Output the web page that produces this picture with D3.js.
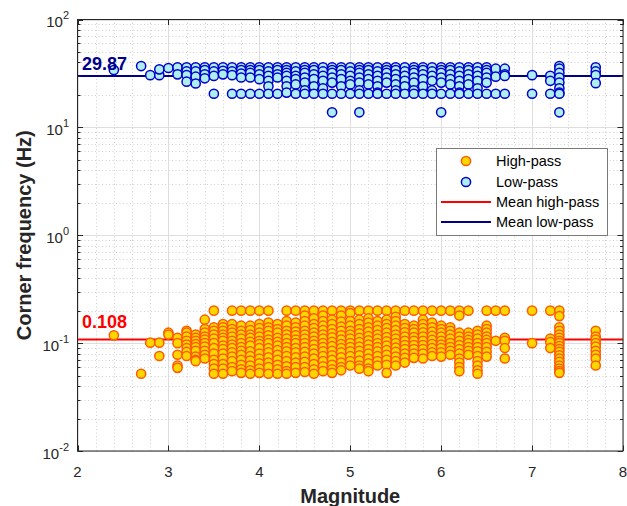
<!DOCTYPE html>
<html><head><meta charset="utf-8">
<script src="https://cdn.jsdelivr.net/npm/d3@7"></script>
<style>body{margin:0;background:#fff;}svg{display:block;font-family:"Liberation Sans",Arial,sans-serif;}</style>
</head><body>
<svg id="c" width="627" height="506"></svg>
<script>
// ---- data ----
const hpMag = [2.4,2.7,2.8,2.9,3.0,3.1,3.2,3.3,3.4,3.5,3.6,3.7,3.8,3.9,4.0,4.1,4.2,4.3,4.4,4.5,4.6,4.7,4.8,4.9,5.0,5.1,5.2,5.3,5.4,5.5,5.6,5.7,5.8,5.9,6.0,6.1,6.2,6.3,6.4,6.5,6.6,6.7,7.0,7.2,7.3,7.7];
const hpVals = [
 [0.118],[0.052],[0.101],[0.101,0.076],[0.125,0.12],
 [0.112,0.10,0.078,0.062,0.059],
 [0.13,0.125,0.115,0.105,0.097,0.09,0.083,0.076],
 [0.12,0.112,0.105,0.098,0.092,0.085,0.075,0.07,0.068],
 [0.165,0.135,0.125,0.115,0.108,0.1,0.093,0.085,0.078,0.072],
 [0.2,0.14,0.13,0.12,0.11,0.1,0.09,0.08,0.07,0.064,0.058,0.052],
 [0.15,0.14,0.13,0.12,0.112,0.105,0.095,0.088,0.08,0.072,0.064,0.058,0.052],
 [0.2,0.15,0.135,0.125,0.115,0.105,0.097,0.09,0.082,0.075,0.068,0.06,0.055],
 [0.2,0.145,0.13,0.12,0.11,0.1,0.092,0.085,0.078,0.07,0.063,0.057,0.053],
 [0.2,0.145,0.132,0.12,0.112,0.103,0.095,0.084,0.076,0.069,0.062,0.056,0.052],
 [0.2,0.15,0.138,0.125,0.115,0.105,0.098,0.09,0.08,0.072,0.065,0.058,0.053],
 [0.2,0.155,0.14,0.13,0.118,0.108,0.1,0.09,0.082,0.074,0.066,0.06,0.052],
 [0.15,0.135,0.125,0.112,0.103,0.095,0.086,0.078,0.07,0.063,0.057,0.052],
 [0.2,0.16,0.145,0.13,0.12,0.11,0.1,0.092,0.084,0.076,0.068,0.061,0.055,0.052],
 [0.2,0.155,0.14,0.128,0.118,0.108,0.1,0.09,0.082,0.074,0.066,0.06,0.053],
 [0.2,0.18,0.16,0.145,0.13,0.12,0.11,0.1,0.092,0.083,0.075,0.067,0.06,0.054],
 [0.2,0.17,0.15,0.138,0.125,0.115,0.105,0.097,0.088,0.08,0.072,0.064,0.057,0.052],
 [0.2,0.18,0.16,0.145,0.132,0.12,0.11,0.1,0.092,0.084,0.076,0.068,0.061,0.055],
 [0.2,0.165,0.15,0.135,0.123,0.113,0.103,0.094,0.085,0.077,0.07,0.063,0.057,0.053],
 [0.2,0.18,0.158,0.142,0.13,0.118,0.108,0.098,0.09,0.082,0.074,0.066,0.06,0.056],
 [0.2,0.19,0.16,0.145,0.13,0.12,0.11,0.1,0.092,0.084,0.076,0.068,0.062],
 [0.2,0.165,0.15,0.135,0.123,0.112,0.102,0.093,0.085,0.077,0.069,0.062,0.058],
 [0.2,0.17,0.155,0.14,0.128,0.116,0.106,0.097,0.088,0.08,0.072,0.065,0.058,0.055],
 [0.2,0.16,0.145,0.132,0.12,0.11,0.1,0.092,0.084,0.076,0.068,0.062],
 [0.2,0.165,0.15,0.138,0.125,0.114,0.104,0.095,0.086,0.078,0.07,0.063,0.053],
 [0.2,0.175,0.16,0.145,0.132,0.12,0.11,0.1,0.091,0.083,0.075,0.068,0.062],
 [0.2,0.15,0.138,0.126,0.115,0.105,0.096,0.088,0.08,0.073,0.066],
 [0.2,0.145,0.135,0.125,0.114,0.105,0.096,0.088,0.08,0.073],
 [0.2,0.165,0.15,0.138,0.126,0.115,0.105,0.096,0.088,0.08,0.072],
 [0.2,0.155,0.14,0.128,0.117,0.107,0.098,0.09,0.082,0.076],
 [0.2,0.145,0.135,0.125,0.115,0.105,0.097,0.09,0.082,0.075],
 [0.2,0.14,0.13,0.12,0.11,0.1,0.092,0.085,0.078],
 [0.2,0.18,0.125,0.115,0.105,0.096,0.088,0.08,0.072,0.066,0.06,0.055],
 [0.2,0.125,0.115,0.107,0.1,0.092,0.085,0.078],
 [0.13,0.12,0.11,0.1,0.092,0.084,0.076,0.068,0.062,0.056,0.052],
 [0.2,0.145,0.135,0.125,0.115,0.107,0.1,0.092,0.083,0.075],
 [0.2,0.105],
 [0.2,0.112,0.105,0.09,0.072],
 [0.2,0.1],
 [0.2,0.11,0.102,0.09],
 [0.2,0.178,0.14,0.13,0.12,0.112,0.105,0.1,0.094,0.088,0.083,0.077,0.072,0.067,0.062,0.058,0.055,0.053],
 [0.13,0.115,0.108,0.1,0.093,0.085,0.078,0.072,0.062]
];
const lpMag = [2.4,2.7,2.8,2.9,3.0,3.1,3.2,3.3,3.4,3.5,3.6,3.7,3.8,3.9,4.0,4.1,4.2,4.3,4.4,4.5,4.6,4.7,4.8,4.9,5.0,5.1,5.2,5.3,5.4,5.5,5.6,5.7,5.8,5.9,6.0,6.1,6.2,6.3,6.4,6.5,6.6,6.7,7.0,7.2,7.3,7.7];
const lpVals = [
 [34],[37],[30.5],[30.5,34.5],[35.5],[36,31],
 [36,33,30.5,26.5],[36,33,29.5,25.5],[36,34,31,28.5],[36,33,30,20.5],
 [36,33.5,31],[36,33,30.5,20.5],[36,34,31.5,29,20.5],[36,34,32,29,20.5],
 [36,34,31,28,20.5],[36,33,30,27,24,20.5],[36,34,31,29,20.5],
 [36,34,32,30,27,24,21],[36,33,30,28,25,20.5],[36,34,32,29,26,22,20.5],
 [36,34,31,28,24,20.5],[36,33,30,27,23,20.5],[36,34,32,29,26,20.5,13.8],
 [36,34,31,28,24,20.5],[36,33,30,27,25,20.5],[36,34,32,29,26,22,20.5,13.8],
 [36,34,31,28,25,20.5],[36,33,30,27,24,21,20.5],[36,34,32,29,26,20.5],
 [36,34,31,28,25,22,20.5],[36,33,30,27,24,20.5],[36,34,32,29,26,22,20.5],
 [36,34,31,28,24,20.5],[36,33,30,27,22,20.5],[36,34,32,29,26,20.5,13.8],
 [36,34,31,28,25,20.5],[36,33,30,27,24,21,20.5],[36,34,31,28,25,20.5],
 [36,33,30,27,23,20.5],[36,34,32,29,26,20.5],[35,29.5,20.5],[35,31,30,20.5],
 [30.5,20.5],[30,27,20.5],[37,35,32,29,26,23,21,20.5,13.8],[36,33,30.5,25.7]
];
const meanHP = 0.108, meanLP = 29.87;
const xTicks = [2,3,4,5,6,7,8];
const yExps = [-2,-1,0,1,2];
const legendLabels = ["High-pass","Low-pass","Mean high-pass","Mean low-pass"];

// ---- layout ----
const L=77.5, R=623, T=19.5, B=451;
const svg=d3.select("#c");
const x=d3.scaleLinear().domain([2,8]).range([L,R]);
const y=d3.scaleLog().domain([0.01,100]).range([B,T]);
const axisCol="#262626";

// grid
const g=svg.append("g");
const minorX=d3.range(2,8.001,0.2).filter(v=>Math.abs(v-Math.round(v))>1e-6);
g.selectAll(".mx").data(minorX).enter().append("line")
 .attr("x1",d=>Math.round(x(d))+0.5).attr("x2",d=>Math.round(x(d))+0.5).attr("y1",T).attr("y2",B)
 .attr("stroke","#d0d0d0").attr("stroke-width",1).attr("stroke-dasharray","1,2.5");
const minorY=[];
for(let e=-2;e<2;e++) for(let k=2;k<=9;k++) minorY.push(k*Math.pow(10,e));
g.selectAll(".my").data(minorY).enter().append("line")
 .attr("y1",d=>Math.round(y(d))+0.5).attr("y2",d=>Math.round(y(d))+0.5).attr("x1",L).attr("x2",R)
 .attr("stroke","#d0d0d0").attr("stroke-width",1).attr("stroke-dasharray","1,2.5");
g.selectAll(".gx").data(xTicks).enter().append("line")
 .attr("x1",d=>Math.round(x(d))+0.5).attr("x2",d=>Math.round(x(d))+0.5).attr("y1",T).attr("y2",B)
 .attr("stroke","#dedede").attr("stroke-width",1);
g.selectAll(".gy").data(yExps).enter().append("line")
 .attr("y1",d=>Math.round(y(Math.pow(10,d)))+0.5).attr("y2",d=>Math.round(y(Math.pow(10,d)))+0.5).attr("x1",L).attr("x2",R)
 .attr("stroke","#dedede").attr("stroke-width",1);

// mean lines
svg.append("line").attr("x1",L).attr("x2",R).attr("y1",y(meanHP)).attr("y2",y(meanHP))
 .attr("stroke","#ff0000").attr("stroke-width",2);
svg.append("line").attr("x1",L).attr("x2",R).attr("y1",y(meanLP)).attr("y2",y(meanLP))
 .attr("stroke","#00008b").attr("stroke-width",2);

// points
function flat(mags,vals){const o=[];mags.forEach((m,i)=>vals[i].forEach(v=>o.push([m,v])));return o;}
const hp=flat(hpMag,hpVals), lp=flat(lpMag,lpVals);
const rad=4.6;
svg.append("g").selectAll("circle").data(hp).enter().append("circle")
 .attr("cx",d=>x(d[0])).attr("cy",d=>y(d[1])).attr("r",rad)
 .attr("fill","#ffd700").attr("stroke","#ff5a00").attr("stroke-width",1.5);
svg.append("g").selectAll("circle").data(lp).enter().append("circle")
 .attr("cx",d=>x(d[0])).attr("cy",d=>y(d[1])).attr("r",rad)
 .attr("fill","#aeeeee").attr("stroke","#0000cd").attr("stroke-width",1.5);

// mean labels
svg.append("text").attr("x",82).attr("y",69.5).attr("font-size",18).attr("font-weight","bold")
 .attr("fill","#00008b").text(meanLP.toFixed(2));
svg.append("text").attr("x",82).attr("y",327.5).attr("font-size",18).attr("font-weight","bold")
 .attr("fill","#ff0000").text(String(meanHP));

// axes box
svg.append("rect").attr("x",L).attr("y",T).attr("width",R-L).attr("height",B-T)
 .attr("fill","none").attr("stroke",axisCol).attr("stroke-width",1);
const tk=svg.append("g").attr("stroke",axisCol).attr("stroke-width",1);
xTicks.forEach(v=>{const px=Math.round(x(v))+0.5;
 tk.append("line").attr("x1",px).attr("x2",px).attr("y1",B).attr("y2",B-5.5);
 tk.append("line").attr("x1",px).attr("x2",px).attr("y1",T).attr("y2",T+5.5);});
yExps.forEach(e=>{const py=Math.round(y(Math.pow(10,e)))+0.5;
 tk.append("line").attr("x1",L).attr("x2",L+5.5).attr("y1",py).attr("y2",py);
 tk.append("line").attr("x1",R).attr("x2",R-5.5).attr("y1",py).attr("y2",py);});
minorY.forEach(v=>{const py=Math.round(y(v))+0.5;
 tk.append("line").attr("x1",L).attr("x2",L+3).attr("y1",py).attr("y2",py);
 tk.append("line").attr("x1",R).attr("x2",R-3).attr("y1",py).attr("y2",py);});

// tick labels
svg.append("g").selectAll("text").data(xTicks).enter().append("text")
 .attr("x",d=>x(d)).attr("y",477).attr("text-anchor","middle").attr("font-size",15)
 .attr("fill",axisCol).text(d=>d);
const yl=svg.append("g");
yExps.forEach(e=>{const py=y(Math.pow(10,e));
 const t=yl.append("text").attr("x",69).attr("y",py+7.5).attr("text-anchor","end")
  .attr("font-size",15).attr("fill",axisCol);
 t.append("tspan").text("10");
 t.append("tspan").attr("dy",-8).attr("font-size",11).text(String(e));
});

// axis titles
svg.append("text").attr("x",(L+R)/2).attr("y",502.5).attr("text-anchor","middle")
 .attr("font-size",20).attr("font-weight","bold").attr("fill",axisCol).text("Magnitude");
svg.append("text").attr("transform",`translate(31,${(T+B)/2}) rotate(-90)`).attr("text-anchor","middle")
 .attr("font-size",20).attr("font-weight","bold").attr("fill",axisCol).text("Corner frequency (Hz)");

// legend
const lg=svg.append("g");
lg.append("rect").attr("x",436.5).attr("y",148.5).attr("width",171).attr("height",87)
 .attr("fill","#fff").attr("stroke","#7a7a7a").attr("stroke-width",1);
const rows=[161,182,202,222];
lg.append("circle").attr("cx",466).attr("cy",rows[0]).attr("r",rad).attr("fill","#ffd700").attr("stroke","#ff5a00").attr("stroke-width",1.5);
lg.append("circle").attr("cx",466).attr("cy",rows[1]).attr("r",rad).attr("fill","#aeeeee").attr("stroke","#0000cd").attr("stroke-width",1.5);
lg.append("line").attr("x1",441).attr("x2",491).attr("y1",rows[2]).attr("y2",rows[2]).attr("stroke","#ff0000").attr("stroke-width",2);
lg.append("line").attr("x1",441).attr("x2",491).attr("y1",rows[3]).attr("y2",rows[3]).attr("stroke","#00008b").attr("stroke-width",2);
legendLabels.forEach((s,i)=>lg.append("text").attr("x",496).attr("y",rows[i]+5.2)
 .attr("font-size",14.5).attr("fill","#000").text(s));
</script>
</body></html>
